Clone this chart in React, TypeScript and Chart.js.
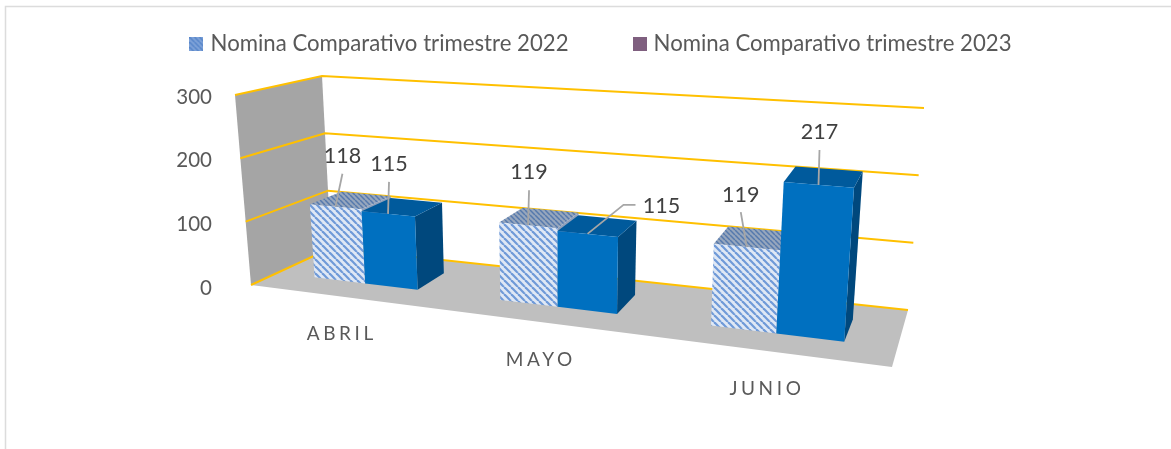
import React, { useEffect, useRef } from "react";
import { Chart, registerables } from "chart.js";

Chart.register(...registerables);

const categories = ["ABRIL", "MAYO", "JUNIO"];
const series2022 = [118, 119, 119];
const series2023 = [115, 115, 217];
const seriesNames = ["Nomina Comparativo trimestre 2022", "Nomina Comparativo trimestre 2023"];
const yTicks = [0, 100, 200, 300];

const FONT = "Lato, 'Open Sans', sans-serif";
const TEXT = "#595959";
const LABEL = "#404040";

// The 3D box of the plot, in page pixels
const FLOOR = { fl: [251, 285], fr: [892, 367], br: [908, 310], bl: [331, 248] };
const TOP = { fl: [235, 95], fr: [908, 145], br: [924, 108], bl: [322, 76] };
const PERSPECTIVE = -0.175;
const BAR_DEPTH = [0.33, 0.73];

// Where each value label and its leader sit, relative to the top of its bar's front face
const LABEL_LAYOUT = [
  [{ t: [7, -51], l: [[7, -33]] }, { t: [1, -50], l: [[1, -32]] }],
  [{ t: [1, -53], l: [[1, -35]] }, { t: [74, -28], l: [[48, -29], [36, -29]] }],
  [{ t: [-6, -52], l: [[-6, -35]] }, { t: [1, -53], l: [[1, -35]] }],
];

type P = [number, number];
const lerp = (a: number[], b: number[], k: number): P => [a[0] + (b[0] - a[0]) * k, a[1] + (b[1] - a[1]) * k];
const plane = (q: typeof FLOOR, u: number, d: number): P => lerp(lerp(q.fl, q.fr, u), lerp(q.bl, q.br, u), d);

function project(chart: any, px: number, py: number, d: number): P {
  const { left, right, top, bottom } = chart.chartArea;
  const t = (px - left) / (right - left);
  const u = ((1 + PERSPECTIVE) * t) / (1 + PERSPECTIVE * t);
  const v = (bottom - py) / (bottom - top);
  return lerp(plane(FLOOR, u, d), plane(TOP, u, d), v);
}

function poly(ctx: CanvasRenderingContext2D, pts: P[], fill: any) {
  ctx.beginPath();
  pts.forEach((p, i) => (i ? ctx.lineTo(p[0], p[1]) : ctx.moveTo(p[0], p[1])));
  ctx.closePath();
  ctx.fillStyle = fill;
  ctx.fill();
}

function line(ctx: CanvasRenderingContext2D, pts: P[], color: string, width: number) {
  ctx.beginPath();
  pts.forEach((p, i) => (i ? ctx.lineTo(p[0], p[1]) : ctx.moveTo(p[0], p[1])));
  ctx.strokeStyle = color;
  ctx.lineWidth = width;
  ctx.stroke();
}

function tile(base: string, ink: string, size: number, width: number) {
  const c = document.createElement("canvas");
  c.width = size;
  c.height = size;
  const g = c.getContext("2d")!;
  g.fillStyle = base;
  g.fillRect(0, 0, size, size);
  g.strokeStyle = ink;
  g.lineWidth = width;
  for (let i = -size; i <= size; i += size) {
    g.beginPath();
    g.moveTo(i, 0);
    g.lineTo(i + size, size);
    g.stroke();
  }
  return c;
}

function swatch(fill: any) {
  const c = document.createElement("canvas");
  c.width = 14;
  c.height = 14;
  const g = c.getContext("2d")!;
  g.fillStyle = fill;
  g.fillRect(0, 0, 14, 14);
  return c;
}

const scene3d = {
  id: "scene3d",
  beforeLayout(chart: any) {
    const l = chart.legend;
    if (l && !l.__patched) {
      const fit = l.fit.bind(l);
      l.fit = () => {
        fit();
        l.height = 132;
      };
      l.__patched = true;
    }
  },
  beforeDraw(chart: any) {
    const ctx = chart.ctx;
    ctx.save();
    ctx.fillStyle = "#ffffff";
    ctx.fillRect(0, 0, chart.width, chart.height);
    line(ctx, [[5.5, chart.height], [5.5, 6.5], [chart.width, 6.5]], "#dcdcdc", 1.5);
    ctx.restore();
  },
  beforeDatasetsDraw(chart: any) {
    const ctx = chart.ctx;
    const { left, right, top, bottom } = chart.chartArea;
    const y = chart.scales.y;
    ctx.save();
    poly(ctx, [project(chart, left, top, 0), project(chart, left, top, 1), project(chart, left, bottom, 1), project(chart, left, bottom, 0)], "#a5a5a5");
    poly(ctx, [project(chart, left, bottom, 0), project(chart, right, bottom, 0), project(chart, right, bottom, 1), project(chart, left, bottom, 1)], "#bfbfbf");
    y.ticks.forEach((tick: any) => {
      const py = y.getPixelForValue(tick.value);
      line(ctx, [project(chart, left, py, 0), project(chart, left, py, 1), project(chart, right, py, 1)], "#ffc000", 2);
    });
    ctx.restore();
  },
  // The bars are drawn in perspective below, from the same elements
  beforeDatasetDraw() {
    return false;
  },
  afterDatasetsDraw(chart: any) {
    const ctx = chart.ctx;
    const [d0, d1] = BAR_DEPTH;
    const bottom = chart.scales.y.getPixelForValue(0);
    ctx.save();
    const tops: any[] = [];
    chart.data.datasets.forEach((ds: any, di: number) => {
      const meta = chart.getDatasetMeta(di);
      meta.data.forEach((bar: any, i: number) => {
        const l = bar.x - bar.width / 2;
        const r = bar.x + bar.width / 2;
        const [fFront, fTop, fSide] = ds.faces;
        poly(ctx, [project(chart, r, bar.y, d0), project(chart, r, bar.y, d1), project(chart, r, bottom, d1), project(chart, r, bottom, d0)], fSide);
        poly(ctx, [project(chart, l, bar.y, d0), project(chart, r, bar.y, d0), project(chart, r, bar.y, d1), project(chart, l, bar.y, d1)], fTop);
        poly(ctx, [project(chart, l, bar.y, d0), project(chart, r, bar.y, d0), project(chart, r, bottom, d0), project(chart, l, bottom, d0)], fFront);
        tops.push({ a: project(chart, bar.x, bar.y, d0), layout: LABEL_LAYOUT[i][di], value: ds.data[i] });
      });
    });
    tops.forEach(({ a, layout }) => {
      const pts: P[] = layout.l.map((o: number[]) => [a[0] + o[0], a[1] + o[1]] as P);
      line(ctx, [...pts, a], "#a6a6a6", 1.8);
    });
    ctx.font = `21.5px ${FONT}`;
    ctx.fillStyle = LABEL;
    ctx.textAlign = "center";
    ctx.textBaseline = "middle";
    tops.forEach(({ a, layout, value }) => {
      ctx.fillText(String(value), a[0] + layout.t[0], a[1] + layout.t[1]);
    });
    const x = chart.scales.x;
    ctx.font = `19px ${FONT}`;
    ctx.fillStyle = TEXT;
    (ctx as any).letterSpacing = "3.6px";
    categories.forEach((name, i) => {
      const p = project(chart, x.getPixelForValue(i), bottom, 0);
      ctx.fillText(name, p[0], p[1] + 37.5);
    });
    (ctx as any).letterSpacing = "0px";
    ctx.restore();
  },
};

export default function App() {
  const ref = useRef<HTMLCanvasElement>(null);
  useEffect(() => {
    const ctx = ref.current!.getContext("2d")!;
    const hatch = ctx.createPattern(tile("#dfe8f5", "#6f9ad8", 7, 2.2), "repeat");
    const hatchTop = ctx.createPattern(tile("#96a6bd", "#5579ad", 5, 1.5), "repeat");
    const legendHatch = ctx.createPattern(tile("#7ea2d8", "#5484c9", 5, 1.5), "repeat");
    const legendFills = [swatch(legendHatch), swatch("#7f5f7f")];
    const chart = new Chart(ref.current!, {
      type: "bar",
      data: {
        labels: categories,
        datasets: [
          { label: seriesNames[0], data: series2022, backgroundColor: legendHatch, borderWidth: 0, faces: [hatch, hatchTop, "#8fa0bb"] } as any,
          { label: seriesNames[1], data: series2023, backgroundColor: "#7f5f7f", borderWidth: 0, faces: ["#0070c0", "#005a9c", "#00487d"] } as any,
        ],
      },
      options: {
        responsive: false,
        animation: false,
        events: [],
        layout: { padding: { left: 34, right: 0, top: -35, bottom: 161 } },
        datasets: { bar: { categoryPercentage: 0.57, barPercentage: 1 } },
        scales: {
          x: { display: false, offset: true },
          y: {
            min: 0,
            max: 300,
            afterFit: (s: any) => { s.width = 201; },
            afterBuildTicks: (s: any) => { s.ticks = yTicks.map((value) => ({ value })); },
            grid: { display: false },
            border: { display: false },
            ticks: { color: TEXT, font: { family: FONT, size: 20.5 }, padding: 15 },
          },
        },
        plugins: {
          tooltip: { enabled: false },
          legend: {
            position: "top",
            labels: {
              usePointStyle: true,
              pointStyleWidth: 6,
              boxHeight: 14,
              boxWidth: 14,
              padding: 68,
              color: TEXT,
              font: { family: FONT, size: 22.2 },
              generateLabels: (c: any) =>
                Chart.defaults.plugins.legend.labels.generateLabels(c).map((item: any, i: number) => ({ ...item, pointStyle: legendFills[i] })),
            },
          },
        },
      } as any,
      plugins: [scene3d],
    });
    return () => chart.destroy();
  }, []);
  return (
    <div style={{ position: "fixed", left: 0, top: 0, width: 1171, height: 449, overflow: "hidden" }}>
      <canvas ref={ref} width={1171} height={449} style={{ display: "block" }} />
    </div>
  );
}
